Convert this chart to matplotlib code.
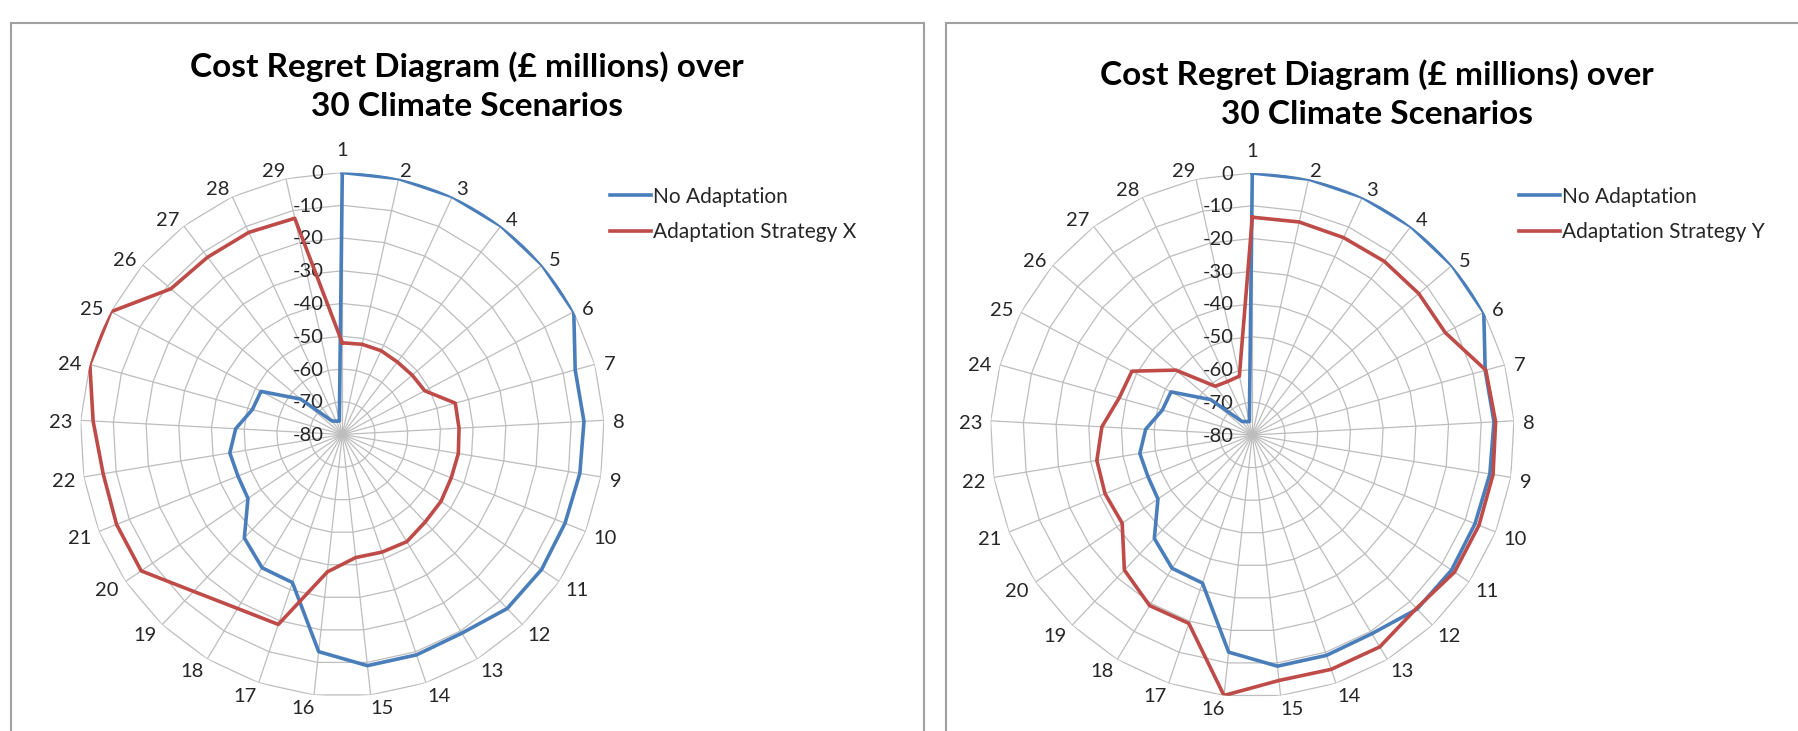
import numpy as np
import matplotlib
matplotlib.use("Agg")
from matplotlib import pyplot as plt  # noqa
from matplotlib.patches import Rectangle  # noqa

scenarios = [str(i) for i in range(1, 30)]
rings = [-80, -70, -60, -50, -40, -30, -20, -10, 0]

no_adaptation = [0, 0, 0, 0, 0, 0, -6.2, -6.1, -6.5, -6.8, -6.5, -6.8, -9.2, -9.0, -9.0,
                 -13.3, -32.3, -32.5, -36.5, -45.2, -45.7, -45.2, -47.4, -51.5, -51.9,
                 -63.3, -74.8, -75.5, -75.8]
strategy_x = [-52.0, -51.8, -51.8, -52.2, -52.0, -51.5, -44.2, -44.3, -44.1, -44.2, -43.6,
              -43.2, -41.8, -42.1, -42.2, -37.8, -18.8, -18.0, -14.0, -5.8, -5.8, -6.0,
              -3.8, 0, 0, -11.3, -12.0, -12.0, -12.4]
strategy_y = [-13.5, -13.4, -13.6, -13.4, -13.3, -13.3, -6.0, -5.6, -5.5, -5.5, -5.4, -7.1,
              -4.5, -4.5, -4.6, 0, -19.3, -19.2, -23.2, -32.0, -31.6, -31.9, -34.0, -37.8,
              -38.4, -49.4, -61.3, -62.0, -61.6]

title = 'Cost Regret Diagram (£ millions) over\n30 Climate Scenarios'
blue = '#4A7EBB'
red = '#BE4B48'
grid_color = '#bdbdbd'
text_color = '#262626'

plt.rcParams['font.family'] = ['Lato', 'DejaVu Sans']

W, H = 1798, 731
fig = plt.figure(figsize=(W / 100, H / 100), dpi=100)


def px(x, y):
    # pixel position (from top left) -> figure fraction
    return x / W, 1 - y / H


def radar(cx, cy, radius, other, other_label, title_y, legend_x):
    rect = [(cx - radius) / W, (H - cy - radius) / H, 2 * radius / W, 2 * radius / H]
    ax = fig.add_axes(rect, projection='polar')
    ax.set_theta_zero_location('N')
    ax.set_theta_direction(-1)
    ax.set_ylim(-80, 0)
    ax.grid(False)
    ax.spines['polar'].set_visible(False)
    ax.set_xticks([])
    ax.set_yticks([])
    ax.patch.set_alpha(0)

    theta = np.linspace(0, 2 * np.pi, len(scenarios), endpoint=False)
    closed = np.append(theta, theta[0])
    for r in rings[1:]:
        ax.plot(closed, [r] * len(closed), color=grid_color, lw=0.9, zorder=1)
    for t in theta:
        ax.plot([t, t], [-80, 0], color=grid_color, lw=0.9, zorder=1)

    for r in rings:
        ax.annotate(str(r), xy=(0, r), xytext=(-19, -1), textcoords='offset pixels',
                    ha='right', va='center', fontsize=14.5, color=text_color, zorder=2)
    # category labels: box edge kept ~10px off the outer ring vertex, Excel style
    for t, lab in zip(theta, scenarios):
        s = np.sin(t)
        if lab == '1':
            off = (0, 21.5)
        else:
            off = (10 * s + np.sign(s) * 5 * len(lab), 10.9 * np.cos(t) - 3.1)
        ax.annotate(lab, xy=(t, 0), xytext=off, textcoords='offset pixels',
                    ha='center', va='center', fontsize=14.5, color=text_color)

    ax.plot(closed, np.append(no_adaptation, no_adaptation[0]), color=blue, lw=2.6,
            label='No Adaptation', zorder=3)
    ax.plot(closed, np.append(other, other[0]), color=red, lw=2.6,
            label=other_label, zorder=3)

    ax.legend(loc='center left', bbox_to_anchor=px(legend_x, 214.5), bbox_transform=fig.transFigure,
              frameon=False, fontsize=15, handlelength=1.95, handletextpad=0.12,
              labelspacing=0.75, borderpad=0, borderaxespad=0, labelcolor=text_color)

    fig.text(*px(cx + 125, title_y), title, ha='center', va='center', fontsize=24,
             fontweight='bold', linespacing=1.4, color='black')


# chart frames, both cut off by the screenshot edge
fig.patches.append(Rectangle(px(11, 800), 913 / W, 777 / H, transform=fig.transFigure,
                             fill=False, edgecolor='#a0a0a0', lw=1.5))
fig.patches.append(Rectangle(px(946, 800), 900 / W, 777 / H, transform=fig.transFigure,
                             fill=False, edgecolor='#a0a0a0', lw=1.5))

radar(342.3, 434.5, 262, strategy_x, 'Adaptation Strategy X', 86, 610)
radar(1252.3, 435, 262, strategy_y, 'Adaptation Strategy Y', 94, 1519)

fig.savefig('out.png', dpi=100)
